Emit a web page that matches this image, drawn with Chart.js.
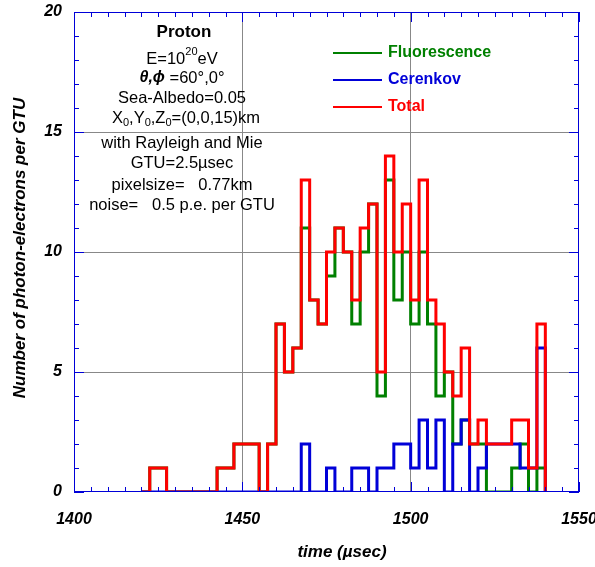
<!DOCTYPE html>
<html>
<head>
<meta charset="utf-8">
<script src="https://cdn.jsdelivr.net/npm/chart.js@4.4.1/dist/chart.umd.min.js"></script>
<style>
  html, body { margin: 0; padding: 0; background: #fff; }
  #wrap { width: 595px; height: 567px; }
</style>
</head>
<body>
<div id="wrap"><canvas id="histChart" width="595" height="567"></canvas></div>
<script>
// bin edges in µsec (GTU = 2.5 µsec)
const binEdges = [
  1420, 1422.5, 1425, 1427.5, 1430, 1432.5, 1435, 1437.5, 1440, 1442.5,
  1445, 1447.5, 1450, 1452.5, 1455, 1457.5, 1460, 1462.5, 1465, 1467.5,
  1470, 1472.5, 1475, 1477.5, 1480, 1482.5, 1485, 1487.5, 1490, 1492.5,
  1495, 1497.5, 1500, 1502.5, 1505, 1507.5, 1510, 1512.5, 1515, 1517.5,
  1520, 1522.5, 1525, 1527.5, 1530, 1532.5, 1535, 1537.5, 1540
];

// photo-electrons per GTU, one value per bin
const totalCounts = [
  0, 1, 1, 0, 0, 0, 0, 0, 0, 1,
  1, 2, 2, 2, 0, 2, 7, 5, 6, 13,
  8, 7, 10, 11, 10, 8, 11, 12, 5, 14,
  10, 12, 8, 13, 8, 7, 5, 4, 6, 2,
  3, 2, 2, 2, 3, 3, 1, 7
];
const fluorescenceCounts = [
  0, 1, 1, 0, 0, 0, 0, 0, 0, 1,
  1, 2, 2, 2, 0, 2, 7, 5, 6, 11,
  8, 7, 9, 11, 10, 7, 10, 12, 4, 13,
  8, 10, 7, 10, 7, 4, 5, 2, 3, 2,
  2, 0, 0, 0, 1, 2, 0, 1
];
const cerenkovCounts = [
  0, 0, 0, 0, 0, 0, 0, 0, 0, 0,
  0, 0, 0, 0, 0, 0, 0, 0, 0, 2,
  0, 0, 1, 0, 0, 1, 1, 0, 1, 1,
  2, 2, 1, 3, 1, 3, 0, 2, 3, 0,
  1, 2, 2, 2, 2, 1, 1, 6
];

const xTickLabels = [1400, 1450, 1500, 1550];
const yTickLabels = [0, 5, 10, 15, 20];

const seriesNames = ['Fluorescence', 'Cerenkov', 'Total'];
const GREEN = '#008000';
const BLUE = '#0000d8';
const RED = '#ff0000';
const FONT = '"Liberation Sans", Arial, Helvetica, sans-serif';

function toSteps(values) {
  const pts = values.map((v, i) => ({ x: binEdges[i], y: v }));
  pts.push({ x: binEdges[binEdges.length - 1], y: 0 });
  return pts;
}

// draws a line made of pieces with their own font / vertical shift, centred on cx
function drawRich(ctx, parts, cx, y) {
  let w = 0;
  parts.forEach(p => { ctx.font = p.font; w += ctx.measureText(p.t).width; });
  let x = cx - w / 2;
  parts.forEach(p => {
    ctx.font = p.font;
    ctx.fillText(p.t, x, y + (p.dy || 0));
    x += ctx.measureText(p.t).width;
  });
}

const decorPlugin = {
  id: 'decor',
  afterDraw(chart) {
    const ctx = chart.ctx;
    const a = chart.chartArea;
    const xs = chart.scales.x;
    const ys = chart.scales.y;
    ctx.save();

    // frame + inward ticks
    ctx.strokeStyle = BLUE;
    ctx.lineWidth = 1;
    ctx.strokeRect(a.left + 0.5, a.top + 0.5, a.right - a.left - 1, a.bottom - a.top - 1);
    ctx.beginPath();
    for (let t = 1400; t <= 1550; t += 5) {
      const px = Math.round(xs.getPixelForValue(t)) + 0.5;
      const len = t % 50 === 0 ? 10 : 5;
      ctx.moveTo(px, a.bottom); ctx.lineTo(px, a.bottom - len);
      ctx.moveTo(px, a.top); ctx.lineTo(px, a.top + len);
    }
    for (let v = 0; v <= 20; v += 1) {
      const py = Math.round(ys.getPixelForValue(v)) + 0.5;
      const len = v % 5 === 0 ? 10 : 5;
      ctx.moveTo(a.left, py); ctx.lineTo(a.left + len, py);
      ctx.moveTo(a.right, py); ctx.lineTo(a.right - len, py);
    }
    ctx.stroke();

    // axis titles
    ctx.fillStyle = '#000';
    ctx.textBaseline = 'middle';
    ctx.textAlign = 'center';
    ctx.font = 'italic bold 17px ' + FONT;
    ctx.fillText('time (\u00b5sec)', 342, 552);
    ctx.save();
    ctx.translate(20, 248);
    ctx.rotate(-Math.PI / 2);
    ctx.fillText('Number of photon-electrons per GTU', 0, 0);
    ctx.restore();

    // legend
    const colors = [GREEN, BLUE, RED];
    ctx.textAlign = 'left';
    ctx.font = 'bold 16px ' + FONT;
    seriesNames.forEach((name, i) => {
      const y = 53 + i * 27;
      ctx.strokeStyle = colors[i];
      ctx.lineWidth = 2;
      ctx.beginPath();
      ctx.moveTo(333, y); ctx.lineTo(382, y);
      ctx.stroke();
      ctx.fillStyle = colors[i];
      ctx.fillText(name, 388, y);
    });

    // annotation block
    ctx.fillStyle = '#000';
    const reg = '16.5px ' + FONT;
    const small = '11px ' + FONT;
    const cx = 182;
    ctx.font = 'bold 17px ' + FONT;
    ctx.textAlign = 'center';
    ctx.fillText('Proton', 184, 32);
    ctx.textAlign = 'left';
    drawRich(ctx, [{ t: 'E=10', font: reg }, { t: '20', font: small, dy: -7 }, { t: 'eV', font: reg }], cx, 59);
    drawRich(ctx, [{ t: '\u03b8,\u03d5', font: 'italic bold 16px ' + FONT }, { t: ' =60\u00b0,0\u00b0', font: reg }], cx, 78);
    drawRich(ctx, [{ t: 'Sea-Albedo=0.05', font: reg }], cx, 98);
    drawRich(ctx, [
      { t: 'X', font: reg }, { t: '0', font: small, dy: 5 },
      { t: ',Y', font: reg }, { t: '0', font: small, dy: 5 },
      { t: ',Z', font: reg }, { t: '0', font: small, dy: 5 },
      { t: '=(0,0,15)km', font: reg }
    ], cx + 4, 118);
    drawRich(ctx, [{ t: 'with Rayleigh and Mie', font: reg }], cx, 143);
    drawRich(ctx, [{ t: 'GTU=2.5\u00b5sec', font: reg }], cx, 163);
    drawRich(ctx, [{ t: 'pixelsize=   0.77km', font: reg }], cx, 185);
    drawRich(ctx, [{ t: 'noise=   0.5 p.e. per GTU', font: reg }], cx, 205);

    ctx.restore();
  }
};

// 'before': each bin value holds from its own edge to the next one
const stepStyle = (label, data, color, order) => ({
  label: label,
  data: toSteps(data),
  borderColor: color,
  backgroundColor: color,
  borderWidth: 3,
  stepped: 'before',
  pointRadius: 0,
  fill: false,
  order: order
});

new Chart(document.getElementById('histChart'), {
  type: 'line',
  data: {
    datasets: [
      stepStyle('Total', totalCounts, RED, 0),
      stepStyle('Cerenkov', cerenkovCounts, BLUE, 1),
      stepStyle('Fluorescence', fluorescenceCounts, GREEN, 2)
    ]
  },
  options: {
    responsive: false,
    animation: false,
    layout: { padding: { top: 12, right: 16, left: 0, bottom: 0 } },
    plugins: {
      legend: { display: false },
      tooltip: { enabled: false }
    },
    scales: {
      x: {
        type: 'linear',
        min: 1400,
        max: 1550,
        afterFit: s => { s.height = 75; s.paddingLeft = 0; s.paddingRight = 0; },
        border: { display: false },
        grid: {
          drawTicks: false,
          color: c => (xTickLabels.includes(c.tick.value) && c.tick.value !== 1400 && c.tick.value !== 1550) ? '#888' : 'transparent'
        },
        ticks: {
          stepSize: 5,
          autoSkip: false,
          maxRotation: 0,
          padding: 18,
          color: '#000',
          font: { family: FONT, size: 16, style: 'italic', weight: 'bold' },
          callback: v => xTickLabels.includes(v) ? String(v) : ''
        }
      },
      y: {
        min: 0,
        max: 20,
        afterFit: s => { s.width = 74; s.paddingTop = 0; s.paddingBottom = 0; },
        border: { display: false },
        grid: {
          drawTicks: false,
          color: c => (yTickLabels.includes(c.tick.value) && c.tick.value !== 0 && c.tick.value !== 20) ? '#888' : 'transparent'
        },
        ticks: {
          stepSize: 1,
          autoSkip: false,
          padding: 12,
          color: '#000',
          font: { family: FONT, size: 16, style: 'italic', weight: 'bold' },
          callback: v => yTickLabels.includes(v) ? String(v) : ''
        }
      }
    }
  },
  plugins: [decorPlugin]
});
</script>
</body>
</html>
